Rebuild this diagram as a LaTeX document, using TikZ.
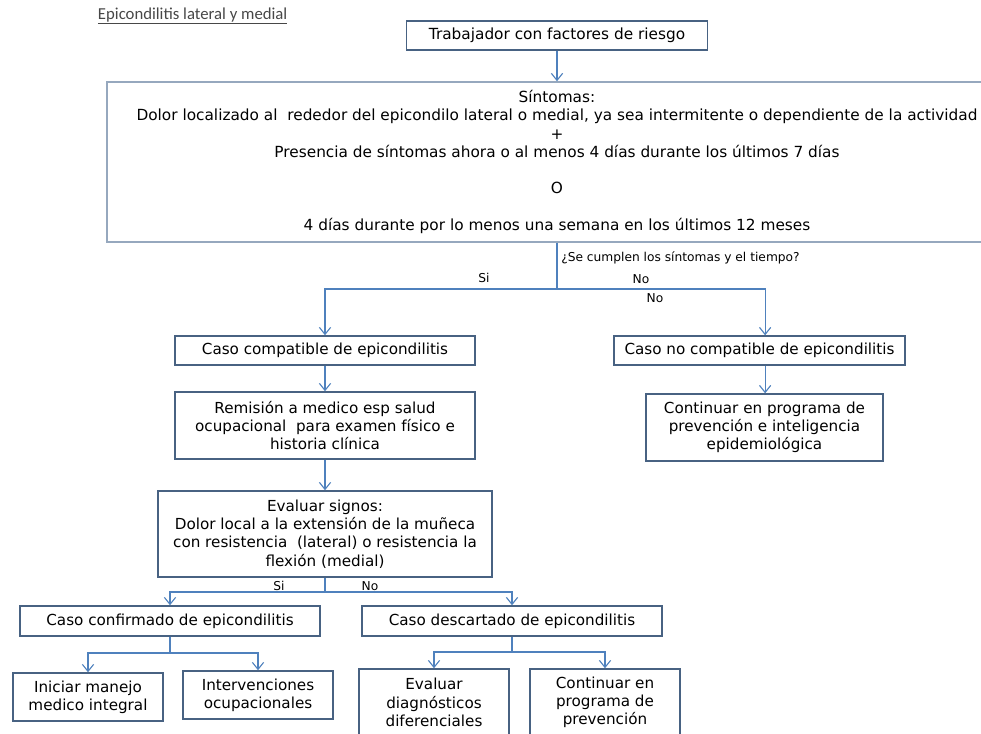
\documentclass[tikz,border=0pt]{standalone}
\usepackage{fontspec}
\setmainfont{DejaVu Sans}
\newfontfamily\titulofont{Carlito}
\usetikzlibrary{arrows.meta}
\definecolor{linea}{RGB}{79,129,189}
\definecolor{borde}{RGB}{72,98,130}
\definecolor{bordeclaro}{RGB}{150,168,190}
\begin{document}
\begin{tikzpicture}[x=0.025cm,y=-0.025cm,>={Straight Barb[length=5pt,width=8pt]},
	caja/.style={draw=borde,line width=1pt,align=center,inner sep=2pt,font=\fontsize{10.8}{13}\selectfont},
	cajagrande/.style={caja,font=\fontsize{10.9}{13}\selectfont},
	flecha/.style={draw=linea,line width=0.8pt,->},
	tramo/.style={draw=linea,line width=0.8pt},
	etiq/.style={font=\fontsize{8.7}{10}\selectfont,inner sep=0pt}]
	\useasboundingbox (0,0) rectangle (981,733);
	\node[anchor=west,text=black!72,font=\titulofont\fontsize{11.9}{14}\selectfont] (titulo) at (93,16) {\underline{Epicondilitis lateral y medial}};
	\node[cajagrande,minimum width=7.525cm,minimum height=0.725cm] (trab) at (557,35.5) {Trabajador con factores de riesgo};
	\node[cajagrande,draw=bordeclaro,minimum width=22.5cm,minimum height=4cm] (sint) at (557,162) {S\'intomas:\\Dolor localizado al\ \ rededor del epicondilo lateral o medial, ya sea intermitente o dependiente de la actividad\\+\\Presencia de s\'intomas ahora o al menos 4 d\'ias durante los \'ultimos 7 d\'ias\\[13pt]O\\[13pt]4 d\'ias durante por lo menos una semana en los \'ultimos 12 meses};
	\draw[flecha] (trab) -- (sint);
	% rama compatible / no compatible
	\coordinate (div1) at (557,289);
	\node[anchor=west,etiq] (preg) at (561,258) {¿Se cumplen los s\'intomas y el tiempo?};
	\node[etiq] (si1) at (484,278) {Si};
	\node[etiq] (no1) at (641,279) {No};
	\node[etiq] (no2) at (655,298) {No};
	\node[caja,minimum width=7.5cm,minimum height=0.725cm] (compat) at (325,350.5) {Caso compatible de epicondilitis};
	\node[caja,minimum width=7.275cm,minimum height=0.725cm] (nocomp) at (759.5,350.5) {Caso no compatible de epicondilitis};
	\draw[tramo] (sint.south) -- (div1);
	\draw[flecha] (div1) -| (compat.north);
	\draw[flecha] (div1) -| ([xshift=4]nocomp.north);
	\node[caja,minimum width=5.925cm,minimum height=1.675cm] (prevint) at (764.5,427.5) {Continuar en programa de\\prevenci\'on e inteligencia\\epidemiol\'ogica};
	\draw[flecha] ([xshift=4]nocomp.south) -- ([xshift=4]nocomp.south |- prevint.north);
	\node[caja,minimum width=7.5cm,minimum height=1.675cm] (remis) at (325,425.5) {Remisi\'on a medico esp salud\\ocupacional\ \ para examen f\'isico e\\historia cl\'inica};
	\draw[flecha] (compat) -- (remis);
	\node[caja,minimum width=8.35cm,minimum height=2.15cm] (evsig) at (325,534) {Evaluar signos:\\Dolor local a la extensi\'on de la mu\~neca\\con resistencia\ \ (lateral) o resistencia la\\flexi\'on (medial)};
	\draw[flecha] (remis) -- (evsig);
	% confirmado / descartado
	\coordinate (div2) at (325,592);
	\node[etiq] (si2) at (279,586) {Si};
	\node[etiq] (no3) at (370,586) {No};
	\node[caja,minimum width=7.5cm,minimum height=0.75cm] (confir) at (170,621) {Caso confirmado de epicondilitis};
	\node[caja,minimum width=7.5cm,minimum height=0.75cm] (descar) at (512,621) {Caso descartado de epicondilitis};
	\draw[tramo] (evsig.south) -- (div2);
	\draw[flecha] (div2) -| (confir.north);
	\draw[flecha] (div2) -| (descar.north);
	\coordinate (div3) at (170,653);
	\node[caja,minimum width=3.75cm,minimum height=1.2cm] (inic) at (88,697) {Iniciar manejo\\medico integral};
	\node[caja,minimum width=3.75cm,minimum height=1.2cm] (interv) at (258,695) {Intervenciones\\ocupacionales};
	\draw[tramo] (confir.south) -- (div3);
	\draw[flecha] (div3) -| (inic.north);
	\draw[flecha] (div3) -| (interv.north);
	\coordinate (div4) at (512,652);
	\node[caja,minimum width=3.75cm,minimum height=1.675cm] (evdif) at (434,702.5) {Evaluar\\diagn\'osticos\\diferenciales};
	\node[caja,minimum width=3.75cm,minimum height=1.675cm] (contprev) at (605,702.5) {Continuar en\\programa de\\prevenci\'on};
	\draw[tramo] (descar.south) -- (div4);
	\draw[flecha] (div4) -| (evdif.north);
	\draw[flecha] (div4) -| (contprev.north);
\end{tikzpicture}
\end{document}
